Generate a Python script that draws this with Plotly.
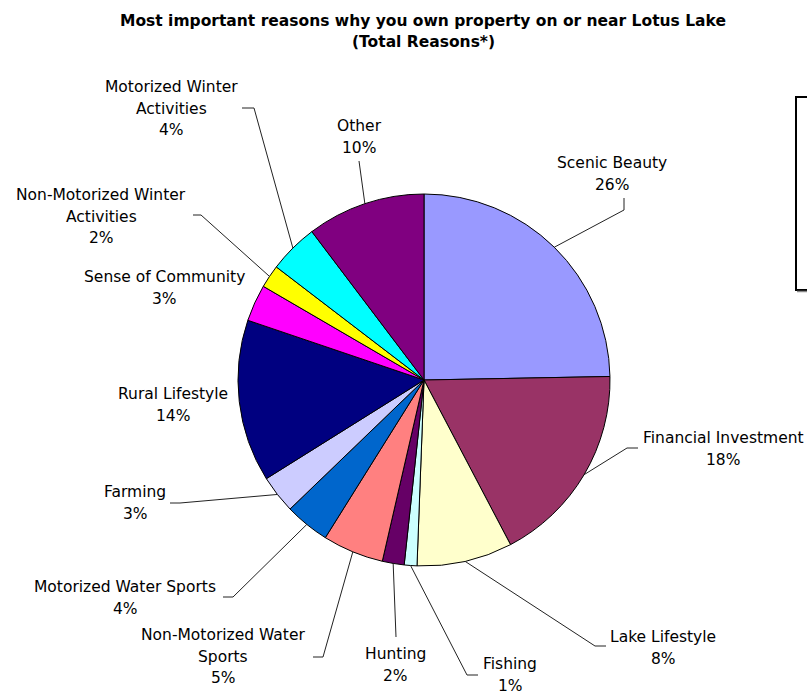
import math
import plotly.graph_objects as go

W, H = 807, 694

# Data (slice sizes, labels as printed)
reasons = ["Scenic Beauty", "Financial Investment", "Lake Lifestyle", "Fishing", "Hunting",
           "Non-Motorized Water Sports", "Motorized Water Sports", "Farming", "Rural Lifestyle",
           "Sense of Community", "Non-Motorized Winter Activities", "Motorized Winter Activities",
           "Other"]
shares = [24.7, 17.6, 8.3, 1.1, 1.9, 5.3, 3.9, 3.3, 14.1, 3.2, 2.0, 4.3, 10.3]
pct_labels = ["26%", "18%", "8%", "1%", "2%", "5%", "4%", "3%", "14%", "3%", "2%", "4%", "10%"]
label_lines = [["Scenic Beauty"], ["Financial Investment"], ["Lake Lifestyle"], ["Fishing"],
               ["Hunting"], ["Non-Motorized Water", "Sports"], ["Motorized Water Sports"],
               ["Farming"], ["Rural Lifestyle"], ["Sense of Community"],
               ["Non-Motorized Winter", "Activities"], ["Motorized Winter", "Activities"],
               ["Other"]]
colors = ["#9999FF", "#993366", "#FFFFCC", "#CCFFFF", "#660066", "#FF8080", "#0066CC",
          "#CCCCFF", "#000080", "#FF00FF", "#FFFF00", "#00FFFF", "#800080"]

# layout (pixel positions in the screenshot)
cx, cy, R = 424, 380, 186
label_pos = [(612, 163), (723, 438), (663, 637), (510, 664), (395, 654), (223, 635),
             (125, 587), (135, 492), (173, 394), (164, 277), (101, 195), (171, 87), (359, 126)]
leader_start = [[(624, 198), (624, 210)], [(638, 448), (627, 448)], [(606, 646), (595, 646)],
                [(478, 675), (467, 675)], [(396, 637)], [(313, 657), (323, 657)],
                [(223, 597), (233, 597)], [(170, 503), (180, 503)], None, None,
                [(193, 215), (201, 215)], [(242, 108), (254, 108)], [(359, 161)]]
LINE_GAP = 21.7
FONT = "DejaVu Sans"

fig = go.Figure()

fig.add_trace(go.Pie(
    values=shares, labels=reasons, sort=False, direction="clockwise", rotation=0,
    marker=dict(colors=colors, line=dict(color="black", width=1)),
    textinfo="none", showlegend=False, hoverinfo="label+percent",
    domain=dict(x=[(cx - R) / W, (cx + R) / W], y=[(H - cy - R) / H, (H - cy + R) / H]),
))

# leader lines: from label side to slice edge at the mid angle
total = sum(shares)
acc = 0
for i, v in enumerate(shares):
    mid = (acc + v / 2) / total * 2 * math.pi
    acc += v
    if leader_start[i] is None:
        continue
    ex = cx + R * math.sin(mid)
    ey = cy - R * math.cos(mid)
    pts = leader_start[i] + [(ex, ey)]
    fig.add_trace(go.Scatter(
        x=[p[0] for p in pts], y=[p[1] for p in pts], mode="lines",
        line=dict(color="#222222", width=1), showlegend=False, hoverinfo="skip",
    ))

annotations = []
for i, lines in enumerate(label_lines):
    x0, y0 = label_pos[i]
    for k, t in enumerate(lines + [pct_labels[i]]):
        annotations.append(dict(
            x=x0, y=y0 + k * LINE_GAP, xref="x", yref="y", text=t, showarrow=False,
            xanchor="center", yanchor="middle", font=dict(family=FONT, size=15.5, color="black"),
        ))

for t, y in [("<b>Most important reasons why you own property on or near Lotus Lake</b>", 21),
             ("<b>(Total Reasons*)</b>", 42)]:
    annotations.append(dict(
        x=423, y=y, xref="x", yref="y", text=t, showarrow=False, xanchor="center",
        yanchor="middle", font=dict(family=FONT, size=15.5, color="black"),
    ))

fig.update_layout(
    width=W, height=H, margin=dict(l=0, r=0, t=0, b=0),
    paper_bgcolor="white", plot_bgcolor="white",
    xaxis=dict(range=[0, W], visible=False, fixedrange=True),
    yaxis=dict(range=[H, 0], visible=False, fixedrange=True),
    annotations=annotations,
    shapes=[
        dict(type="rect", xref="x", yref="y", x0=796, x1=820, y0=97, y1=290,
             line=dict(color="black", width=2), fillcolor="rgba(0,0,0,0)"),
        dict(type="line", xref="x", yref="y", x0=797, x1=820, y0=291.5, y1=291.5,
             line=dict(color="#888888", width=1.5)),
    ],
)

# drop the default page margin so the figure sits at the window's corner
fig.write_html("out.html", config={"displayModeBar": False},
               post_script="document.body.style.margin='0';"
                           "document.body.style.overflow='hidden';")
